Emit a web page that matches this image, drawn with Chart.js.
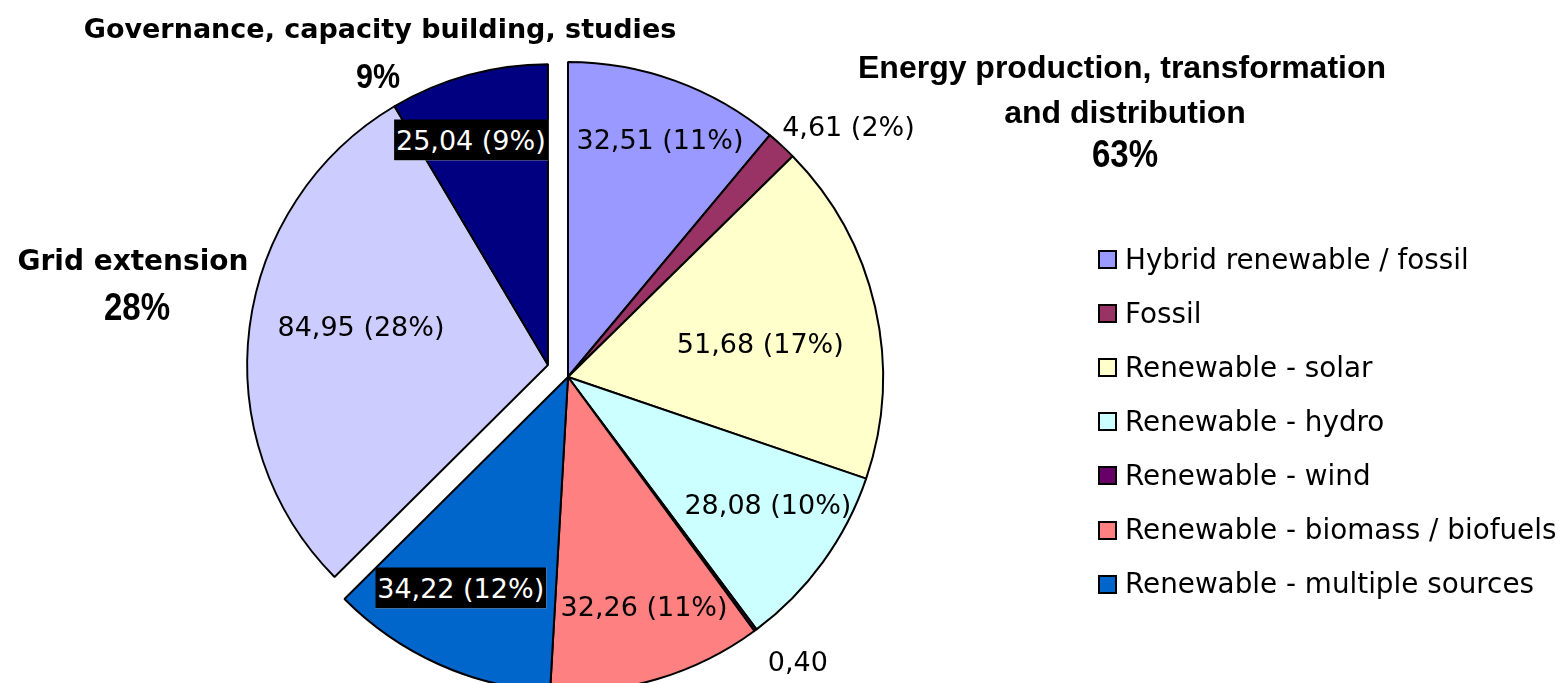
<!DOCTYPE html>
<html>
<head>
<meta charset="utf-8">
<script src="https://cdn.jsdelivr.net/npm/chart.js@4/dist/chart.umd.min.js"></script>
<style>
  html, body { margin:0; padding:0; background:#fff; width:1560px; height:683px; overflow:hidden; }
  #wrap { position:relative; width:1560px; height:683px; }
  canvas { position:absolute; left:0; top:0; }
  .t { position:absolute; white-space:nowrap; line-height:1; transform:translate(-50%,-50%); color:#000; }
  .slice { font-family:"DejaVu Sans", sans-serif; font-size:27px; }
  .dark { background:#000; color:#fff; padding:7px 2px; }
  .grp { font-family:"DejaVu Sans", sans-serif; font-weight:bold; }
  .grp2 { font-family:"Liberation Sans", Arial, sans-serif; font-weight:bold; font-size:32px; }
  .pct { font-family:"Liberation Sans", Arial, sans-serif; font-weight:bold; transform:translate(-50%,-50%) scaleX(0.87); }
  .leg { position:absolute; left:1098px; height:40px; display:flex; align-items:center; white-space:nowrap;
         font-family:"DejaVu Sans", sans-serif; font-size:27.8px; line-height:1; }
  .leg i { display:inline-block; width:19px; height:19px; box-sizing:border-box; border:2px solid #000; margin-right:8px; }
</style>
</head>
<body>
<div id="wrap">
  <canvas id="c" width="1560" height="683"></canvas>
</div>
<script>
// ---- data ----
const categories = [
  'Hybrid renewable / fossil',
  'Fossil',
  'Renewable - solar',
  'Renewable - hydro',
  'Renewable - wind',
  'Renewable - biomass / biofuels',
  'Renewable - multiple sources',
  'Grid extension',
  'Governance, capacity building, studies'
];
const values = [32.51, 4.61, 51.68, 28.08, 0.40, 32.26, 34.22, 84.95, 25.04];
const percentText = ['11%', '2%', '17%', '10%', '', '11%', '12%', '28%', '9%'];
const legendCount = 7; // first seven categories appear in the legend
const groupNames = ['Energy production, transformation', 'and distribution', 'Grid extension', 'Governance, capacity building, studies'];
const groupPercents = ['63%', '28%', '9%'];

// ---- styles ----
const colors = ['#9999FF', '#993366', '#FFFFCC', '#CCFFFF', '#660066', '#FF8080', '#0066CC', '#CCCCFF', '#000080'];
const exploded = [false, false, false, false, false, false, false, true, true];
const explode = { dx: -20, dy: -12, scale: 0.955 };
const darkLabel = [false, false, false, false, false, false, true, false, true];
// radial fraction of radius and angular tweak (deg) for each value label
const labelPlace = [
  { f: 0.81,  a: 1.2 },
  { f: 1.195, a: 5.5 },
  { f: 0.62,  a: 2.8 },
  { f: 0.752, a: -3.6 },
  { f: 1.159, a: -2.5 },
  { f: 0.765, a: -1.9 },
  { f: 0.752, a: 2.7 },
  { f: 0.635, a: 4.5 },
  { f: 0.79,  a: -3.6 }
];

const wrap = document.getElementById('wrap');
function addText(txt, cls, x, y, extra) {
  const d = document.createElement('div');
  d.className = 't ' + cls;
  d.textContent = txt;
  d.style.left = x + 'px';
  d.style.top = y + 'px';
  if (extra) Object.assign(d.style, extra);
  wrap.appendChild(d);
  return d;
}

// value labels (positioned from the arcs after drawing)
const fmt = v => v.toFixed(2).replace('.', ',');
const valueLabels = values.map((v, i) => {
  const txt = percentText[i] ? fmt(v) + ' (' + percentText[i] + ')' : fmt(v);
  return addText(txt, 'slice' + (darkLabel[i] ? ' dark' : ''), 0, 0);
});

const groupExplode = {
  id: 'groupExplode',
  beforeDatasetDraw(chart, args) {
    const ctx = chart.ctx;
    args.meta.data.forEach((arc, i) => {
      ctx.save();
      if (exploded[i]) {
        ctx.translate(arc.x + explode.dx, arc.y + explode.dy);
        ctx.scale(explode.scale, explode.scale);
        ctx.translate(-arc.x, -arc.y);
      }
      arc.draw(ctx, chart.chartArea);
      ctx.restore();
    });
    return false;
  },
  afterDraw(chart) {
    const arcs = chart.getDatasetMeta(0).data;
    arcs.forEach((arc, i) => {
      let cx = arc.x, cy = arc.y, r = arc.outerRadius;
      if (exploded[i]) { cx += explode.dx; cy += explode.dy; r *= explode.scale; }
      const mid = (arc.startAngle + arc.endAngle) / 2 + labelPlace[i].a * Math.PI / 180;
      const rr = r * labelPlace[i].f;
      valueLabels[i].style.left = (cx + rr * Math.cos(mid)) + 'px';
      valueLabels[i].style.top = (cy + rr * Math.sin(mid)) + 'px';
    });
  }
};

new Chart(document.getElementById('c'), {
  type: 'pie',
  data: {
    labels: categories,
    datasets: [{
      data: values,
      backgroundColor: colors,
      borderColor: '#000',
      borderWidth: 2,
      hoverOffset: 0
    }]
  },
  options: {
    responsive: false,
    animation: false,
    events: [],
    radius: 315,
    layout: { padding: { left: 0, right: 424, top: 71, bottom: 0 } },
    plugins: { legend: { display: false }, tooltip: { enabled: false } }
  },
  plugins: [groupExplode]
});

// group titles
addText(groupNames[3], 'grp', 380, 28, { fontSize: '27px' });
addText(groupPercents[2], 'pct', 378, 75, { fontSize: '35px' });
addText(groupNames[2], 'grp', 133, 261, { fontSize: '28px' });
addText(groupPercents[1], 'pct', 137, 307, { fontSize: '38px' });
addText(groupNames[0], 'grp2', 1122, 67);
addText(groupNames[1], 'grp2', 1125, 112);
addText(groupPercents[0], 'pct', 1125, 154, { fontSize: '38px' });

// legend
for (let i = 0; i < legendCount; i++) {
  const row = document.createElement('div');
  row.className = 'leg';
  row.style.top = (259.5 + i * 54.1 - 20) + 'px';
  const sw = document.createElement('i');
  sw.style.background = colors[i];
  row.appendChild(sw);
  row.appendChild(document.createTextNode(categories[i]));
  wrap.appendChild(row);
}
</script>
</body>
</html>
